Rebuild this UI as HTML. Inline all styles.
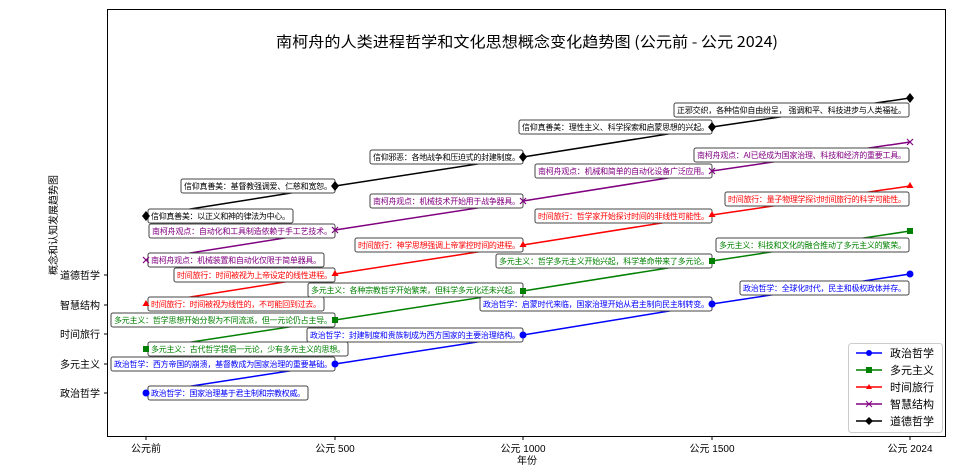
<!DOCTYPE html>
<html><head><meta charset="utf-8"><style>
body{margin:0;background:#fff}
svg{display:block;font-family:"Liberation Sans","Noto Sans CJK SC",sans-serif}
.b{fill:#fff;stroke:#444;stroke-width:1}
.t{font-size:8px}
</style></head><body>
<svg width="960" height="470" viewBox="0 0 960 470">
<rect x="0" y="0" width="960" height="470" fill="#fff"/>
<text x="276" y="47" font-size="15" font-family="'Noto Sans CJK SC',sans-serif" textLength="502" lengthAdjust="spacingAndGlyphs">南柯舟的人类进程哲学和文化思想概念变化趋势图 (公元前 - 公元 2024)</text>
<rect x="107.5" y="9.5" width="838" height="427" fill="none" stroke="#000" stroke-width="1"/>
<g stroke="#000"><line x1="104" x2="107.5" y1="275" y2="275"/><line x1="104" x2="107.5" y1="305" y2="305"/><line x1="104" x2="107.5" y1="334" y2="334"/><line x1="104" x2="107.5" y1="364" y2="364"/><line x1="104" x2="107.5" y1="393" y2="393"/>
<line x1="146" x2="146" y1="437" y2="440"/><line x1="335" x2="335" y1="437" y2="440"/><line x1="523" x2="523" y1="437" y2="440"/><line x1="712" x2="712" y1="437" y2="440"/><line x1="910" x2="910" y1="437" y2="440"/></g>
<g font-size="10" text-anchor="end"><text x="100" y="279">道德哲学</text><text x="100" y="309">智慧结构</text><text x="100" y="338">时间旅行</text><text x="100" y="368">多元主义</text><text x="100" y="397">政治哲学</text></g>
<g font-size="10" text-anchor="middle"><text x="146" y="452">公元前</text><text x="335" y="452">公元 500</text><text x="523" y="452">公元 1000</text><text x="712" y="452">公元 1500</text><text x="910" y="452">公元 2024</text>
<text x="527" y="464">年份</text>
<text transform="translate(57,225) rotate(-90)">概念和认知发展趋势图</text></g>
<polyline points="146,393 335,364 523,335 712,304 910,274" fill="none" stroke="#00f" stroke-width="1.5"/>
<polyline points="146,349 335,320 523,291 712,261 910,231" fill="none" stroke="#008000" stroke-width="1.5"/>
<polyline points="146,304 335,274 523,245 712,215 910,186" fill="none" stroke="#f00" stroke-width="1.5"/>
<polyline points="146,260 335,230 523,201 712,171 910,142" fill="none" stroke="#800080" stroke-width="1.5"/>
<polyline points="146,216 335,186 523,157 712,127 910,98" fill="none" stroke="#000" stroke-width="1.5"/>
<g class="t">
<rect class="b" x="148" y="386" width="160" height="14" rx="2"/><text x="151" y="396" fill="#00f" textLength="154">政治哲学：国家治理基于君主制和宗教权威。</text>
<rect class="b" x="111" y="357" width="224" height="14" rx="2"/><text x="114" y="367" fill="#00f" textLength="218">政治哲学：西方帝国的崩溃，基督教成为国家治理的重要基础。</text>
<rect class="b" x="307" y="328" width="216" height="14" rx="2"/><text x="310" y="338" fill="#00f" textLength="210">政治哲学：封建制度和贵族制成为西方国家的主要治理结构。</text>
<rect class="b" x="480" y="297" width="232" height="14" rx="2"/><text x="483" y="307" fill="#00f" textLength="226">政治哲学：启蒙时代来临，国家治理开始从君主制向民主制转变。</text>
<rect class="b" x="740" y="281" width="169" height="14" rx="2"/><text x="743" y="291" fill="#00f" textLength="163">政治哲学：全球化时代，民主和极权政体并存。</text>

<rect class="b" x="148" y="342" width="200" height="14" rx="2"/><text x="151" y="352" fill="#008000" textLength="194">多元主义：古代哲学提倡一元论，少有多元主义的思想。</text>
<rect class="b" x="111" y="313" width="224" height="14" rx="2"/><text x="114" y="323" fill="#008000" textLength="218">多元主义：哲学思想开始分裂为不同流派，但一元论仍占主导。</text>
<rect class="b" x="308" y="283" width="215" height="14" rx="2"/><text x="311" y="293" fill="#008000" textLength="209">多元主义：各种宗教哲学开始繁荣，但科学多元化还未兴起。</text>
<rect class="b" x="496" y="254" width="216" height="14" rx="2"/><text x="499" y="264" fill="#008000" textLength="210">多元主义：哲学多元主义开始兴起，科学革命带来了多元论。</text>
<rect class="b" x="716" y="238" width="193" height="14" rx="2"/><text x="719" y="248" fill="#008000" textLength="187">多元主义：科技和文化的融合推动了多元主义的繁荣。</text>

<rect class="b" x="148" y="297" width="176" height="14" rx="2"/><text x="151" y="307" fill="#f00" textLength="170">时间旅行：时间被视为线性的，不可能回到过去。</text>
<rect class="b" x="174" y="268" width="161" height="14" rx="2"/><text x="177" y="278" fill="#f00" textLength="155">时间旅行：时间被视为上帝设定的线性进程。</text>
<rect class="b" x="355" y="238" width="168" height="14" rx="2"/><text x="358" y="248" fill="#f00" textLength="162">时间旅行：神学思想强调上帝掌控时间的进程。</text>
<rect class="b" x="535" y="209" width="177" height="14" rx="2"/><text x="538" y="219" fill="#f00" textLength="171">时间旅行：哲学家开始探讨时间的非线性可能性。</text>
<rect class="b" x="725" y="192" width="184" height="14" rx="2"/><text x="728" y="202" fill="#f00" textLength="178">时间旅行：量子物理学探讨时间旅行的科学可能性。</text>

<rect class="b" x="148" y="253" width="176" height="14" rx="2"/><text x="151" y="263" fill="#800080" textLength="170">南柯舟观点：机械装置和自动化仅限于简单器具。</text>
<rect class="b" x="149" y="224" width="186" height="14" rx="2"/><text x="152" y="234" fill="#800080" textLength="180">南柯舟观点：自动化和工具制造依赖于手工艺技术。</text>
<rect class="b" x="370" y="194" width="153" height="14" rx="2"/><text x="373" y="204" fill="#800080" textLength="147">南柯舟观点：机械技术开始用于战争器具。</text>
<rect class="b" x="535" y="164" width="177" height="14" rx="2"/><text x="538" y="174" fill="#800080" textLength="171">南柯舟观点：机械和简单的自动化设备广泛应用。</text>
<rect class="b" x="694" y="148" width="215" height="14" rx="2"/><text x="697" y="158" fill="#800080" textLength="209">南柯舟观点：AI已经成为国家治理、科技和经济的重要工具。</text>

<rect class="b" x="148" y="209" width="145" height="14" rx="2"/><text x="151" y="219" fill="#000" textLength="139">信仰真善美：以正义和神的律法为中心。</text>
<rect class="b" x="181" y="179" width="154" height="14" rx="2"/><text x="184" y="189" fill="#000" textLength="148">信仰真善美：基督教强调爱、仁慈和宽恕。</text>
<rect class="b" x="370" y="150" width="153" height="14" rx="2"/><text x="373" y="160" fill="#000" textLength="147">信仰邪恶：各地战争和压迫式的封建制度。</text>
<rect class="b" x="519" y="120" width="193" height="14" rx="2"/><text x="522" y="130" fill="#000" textLength="187">信仰真善美：理性主义、科学探索和启蒙思想的兴起。</text>
<rect class="b" x="674" y="103" width="235" height="14" rx="2"/><text x="677" y="113" fill="#000" textLength="229">正邪交织，各种信仰自由纷呈， 强调和平、科技进步与人类福祉。</text>
</g>
<g fill="#00f"><circle cx="146" cy="393" r="3.5"/><circle cx="335" cy="364" r="3.5"/><circle cx="523" cy="335" r="3.5"/><circle cx="712" cy="304" r="3.5"/><circle cx="910" cy="274" r="3.5"/></g>
<g fill="#008000"><rect x="143" y="346" width="6" height="6"/><rect x="332" y="317" width="6" height="6"/><rect x="520" y="288" width="6" height="6"/><rect x="709" y="258" width="6" height="6"/><rect x="907" y="228" width="6" height="6"/></g>
<g fill="#f00"><path d="M146,300 l3.5,6 h-7z"/><path d="M335,270 l3.5,6 h-7z"/><path d="M523,241 l3.5,6 h-7z"/><path d="M712,211 l3.5,6 h-7z"/><path d="M910,182 l3.5,6 h-7z"/></g>
<g stroke="#800080" stroke-width="1.2"><path d="M143,257 l6,6 M149,257 l-6,6"/><path d="M332,227 l6,6 M338,227 l-6,6"/><path d="M520,198 l6,6 M526,198 l-6,6"/><path d="M709,168 l6,6 M715,168 l-6,6"/><path d="M907,139 l6,6 M913,139 l-6,6"/></g>
<g fill="#000"><path d="M146,211 l4,5 -4,5 -4,-5z"/><path d="M335,181 l4,5 -4,5 -4,-5z"/><path d="M523,152 l4,5 -4,5 -4,-5z"/><path d="M712,122 l4,5 -4,5 -4,-5z"/><path d="M910,93 l4,5 -4,5 -4,-5z"/></g>
<rect x="848.5" y="343.5" width="94" height="89" rx="3" fill="#fff" stroke="#ccc"/>
<g stroke-width="1.5">
<line x1="856" x2="882" y1="353" y2="353" stroke="#00f"/><circle cx="869" cy="353" r="3" fill="#00f"/>
<line x1="856" x2="882" y1="370" y2="370" stroke="#008000"/><rect x="866" y="367" width="6" height="6" fill="#008000"/>
<line x1="856" x2="882" y1="387" y2="387" stroke="#f00"/><path d="M869,384 l3,5 h-6z" fill="#f00"/>
<line x1="856" x2="882" y1="404" y2="404" stroke="#800080"/><path d="M866,401 l6,6 M872,401 l-6,6" stroke="#800080" stroke-width="1"/>
<line x1="856" x2="882" y1="421" y2="421" stroke="#000"/><path d="M869,417 l4,4 -4,4 -4,-4z" fill="#000"/>
</g>
<g font-size="11"><text x="890" y="357">政治哲学</text><text x="890" y="374">多元主义</text><text x="890" y="391">时间旅行</text><text x="890" y="408">智慧结构</text><text x="890" y="425">道德哲学</text></g>
</svg>
</body></html>
